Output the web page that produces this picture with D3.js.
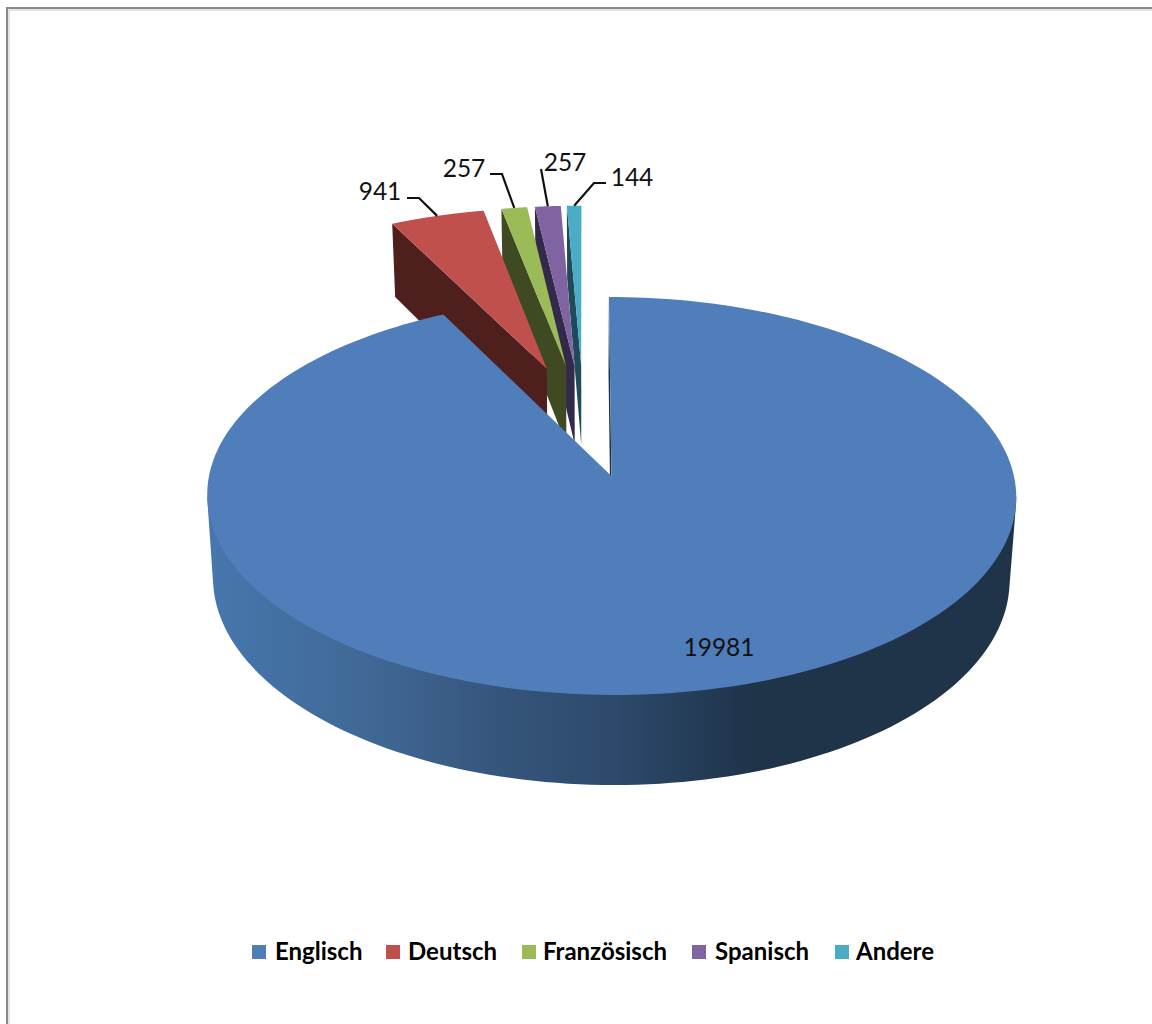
<!DOCTYPE html>
<html><head><meta charset="utf-8">
<script src="https://cdn.jsdelivr.net/npm/d3@7"></script>
<style>html,body{margin:0;padding:0;background:#fff}svg{display:block}</style>
</head><body><svg id="c" width="1152" height="1024"></svg>
<script>
const categories = ["Englisch","Deutsch","Französisch","Spanisch","Andere"];
const values = [19981,941,257,257,144];
const topColors = ["#4F7EBA","#C0504D","#9BBB59","#8064A2","#4BACC6"];
const wallColors = ["#1F3349","#4F1F1D","#3F4A22","#33294A","#1F4A58"];
const labelAnchors = [[719,646],[380,190],[464,167],[565,161],[632,176]];
const leaderKnees = [null,[[407,198],[419,198]],[[490,174],[502,174]],[[541,169]],[[606,183],[594,183]]];
const legendX = [252,386,522,692,835];
const legendTextX = [275,408,543,715,856];

const W=1152,H=1024;
const svg=d3.select("#c");
const FONT="Lato, 'Open Sans', sans-serif";

const pie=d3.pie().sort(null).value(d=>d).startAngle(0).endAngle(2*Math.PI);
const arcs=pie(values);

const explode=0.30, persp=0.0976;
const planes={
  top:{x0:583.6,y0:420.1,R:391,K:185.9},
  bottom:{x0:583.6,y0:500.3,R:385,K:192.6}
};
function project(u,v,plane){
  const p=planes[plane], w=1+persp*v;
  return [p.x0+p.R*u/w, p.y0-p.K*v/w];
}
function centre(a){
  const m=(a.startAngle+a.endAngle)/2;
  return [explode*Math.sin(m),explode*Math.cos(m)];
}
function apex(a,plane){const c=centre(a);return project(c[0],c[1],plane);}
function rim(a,ang,plane){const c=centre(a);return project(c[0]+Math.sin(ang),c[1]+Math.cos(ang),plane);}
function rimPts(a,plane,from=a.startAngle,to=a.endAngle){
  const s=d3.scaleLinear().domain([0,240]).range([from,to]);
  return d3.range(241).map(i=>rim(a,s(i),plane));
}
const line=d3.line();

// frame
svg.append("path").attr("d",`M7 ${H}V8H${W}`).attr("fill","none").attr("stroke","#8a8a8a").attr("stroke-width",2);
svg.append("path").attr("d",`M9 ${H}V10H${W}`).attr("fill","none").attr("stroke","#c8c8c8").attr("stroke-width",1);

const defs=svg.append("defs");
const g=defs.append("linearGradient").attr("id","wall").attr("gradientUnits","userSpaceOnUse")
  .attr("x1",207).attr("x2",1016).attr("y1",0).attr("y2",0);
[[0,"#4677AE"],[0.2,"#406895"],[0.36,"#36557C"],[0.5,"#2D4A6C"],[0.68,"#1F3349"],[1,"#1F3349"]]
  .forEach(s=>g.append("stop").attr("offset",s[0]).attr("stop-color",s[1]));

// small exploded slices, right to left so each top covers its neighbour's cut face
arcs.slice(1).map((a,idx)=>[a,idx+1]).reverse().forEach(([a,i])=>{
  svg.append("path").attr("d",line([rim(a,a.startAngle,"top"),apex(a,"top"),apex(a,"bottom"),rim(a,a.startAngle,"bottom")])+"Z")
    .attr("fill",wallColors[i]);
  svg.append("path").attr("d",line([apex(a,"top"),...rimPts(a,"top")])+"Z").attr("fill",topColors[i]);
});

// main slice: cut face, outer wall as the silhouette between the two rims, then the top
const big=arcs[0];
svg.append("path").attr("d",line([rim(big,big.startAngle,"top"),apex(big,"top"),apex(big,"bottom"),rim(big,big.startAngle,"bottom")])+"Z")
  .attr("fill",wallColors[0]);
function nearHalf(plane){
  const pts=rimPts(big,plane,0,2*Math.PI);
  const l=pts.reduce((m,p)=>p[0]<m[0]?p:m), r=pts.reduce((m,p)=>p[0]>m[0]?p:m);
  const lim=Math.max(l[1],r[1])-1;
  return pts.filter(p=>p[1]>=lim);
}
svg.append("path").attr("d",line(d3.polygonHull([...nearHalf("top"),...nearHalf("bottom")]))+"Z").attr("fill","url(#wall)");
svg.append("path").attr("d",line([apex(big,"top"),...rimPts(big,"top")])+"Z").attr("fill",topColors[0]);

// leaders
arcs.forEach((a,i)=>{
  if(!leaderKnees[i])return;
  const m=(a.startAngle+a.endAngle)/2;
  svg.append("path").attr("d",line([...leaderKnees[i],rim(a,m,"top")]))
    .attr("fill","none").attr("stroke","#111").attr("stroke-width",2.2);
});
// labels
values.forEach((v,i)=>{
  svg.append("text").attr("x",labelAnchors[i][0]).attr("y",labelAnchors[i][1]).attr("text-anchor","middle")
    .attr("dominant-baseline","central").attr("font-family",FONT).attr("font-size",24.5).attr("fill","#111").text(v);
});
// legend
categories.forEach((c,i)=>{
  svg.append("rect").attr("x",legendX[i]).attr("y",945).attr("width",14).attr("height",14).attr("fill",topColors[i]);
  svg.append("text").attr("x",legendTextX[i]).attr("y",960).attr("font-family",FONT).attr("font-weight",700)
    .attr("font-size",24).attr("fill","#000").text(c);
});
</script></body></html>
